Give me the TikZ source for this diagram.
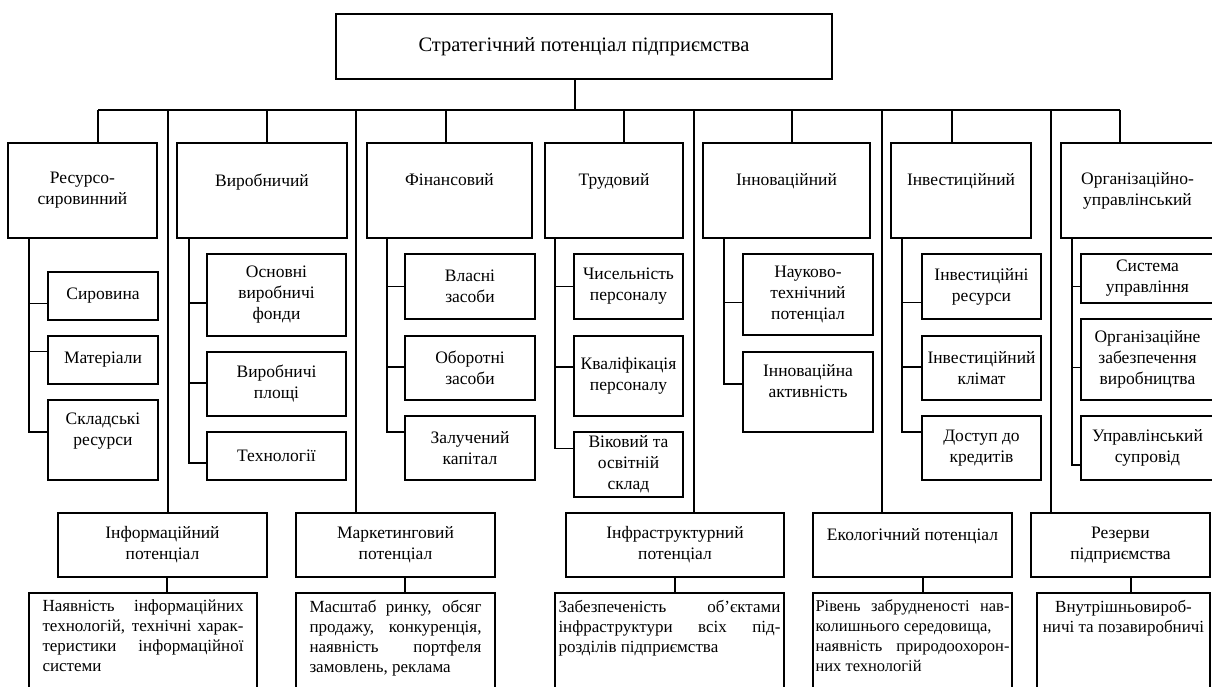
\documentclass[tikz,border=0pt]{standalone}
\usepackage{fontspec}
\setmainfont{Liberation Serif}
\usetikzlibrary{calc, positioning}
\tolerance=10000
\hyphenpenalty=10000

\begin{document}
\begin{tikzpicture}[x=1pt, y=-1pt,
        boxline/.style={draw, line width=2pt},
        titlebox/.style={boxline, minimum width=496, minimum height=65, font=\fontsize{20.5}{24}\selectfont},
        mainbox/.style={boxline, align=center, inner sep=1pt, font=\fontsize{17.5}{21}\selectfont},
        descbox/.style={boxline, anchor=north, inner xsep=0pt, inner ysep=7pt, font=\fontsize{17}{20}\selectfont},
        link/.style={line width=1.9pt}]
        \useasboundingbox (0,0) rectangle (1212,686);

        \node[titlebox] (nTop) at (584,46.5) {Стратегічний потенціал підприємства};

        % first row
        \node[mainbox, minimum width=149, minimum height=95] (nRes) at (82.5,190.5) {Ресурсо-\\сировинний};
        \node[mainbox, minimum width=170, minimum height=95] (nVyr) at (262,190.5) {Виробничий\\\mbox{}};
        \node[mainbox, minimum width=165, minimum height=95] (nFin) at (449.5,190.5) {Фінансовий\\\mbox{}};
        \node[mainbox, minimum width=138, minimum height=95] (nTrud) at (614,190.5) {Трудовий\\\mbox{}};
        \node[mainbox, minimum width=167, minimum height=95] (nInnov) at (786.5,190.5) {Інноваційний\\\mbox{}};
        \node[mainbox, minimum width=140, minimum height=95] (nInvest) at (961,190.5) {Інвестиційний\\\mbox{}};
        \node[mainbox, minimum width=153, minimum height=95] (nOrg) at (1137.5,190.5) {Організаційно-\\управлінський};

        \node[mainbox, minimum width=110, minimum height=48] (nResA) at (103,295.5) {Сировина};
        \node[mainbox, minimum width=110, minimum height=48] (nResB) at (103,359.5) {Матеріали};
        \node[mainbox, minimum width=110, minimum height=80] (nResC) at (103,440) {Складські\\ресурси\\\mbox{}};

        \node[mainbox, minimum width=139, minimum height=82] (nVyrA) at (276.5,295) {Основні\\виробничі\\фонди};
        \node[mainbox, minimum width=139, minimum height=64] (nVyrB) at (276.5,384) {Виробничі\\площі};
        \node[mainbox, minimum width=139, minimum height=48] (nVyrC) at (276.5,456) {Технології};

        \node[mainbox, minimum width=130, minimum height=65] (nFinA) at (470,286.5) {Власні\\засоби};
        \node[mainbox, minimum width=130, minimum height=64] (nFinB) at (470,368) {Оборотні\\засоби};
        \node[mainbox, minimum width=130, minimum height=64] (nFinC) at (470,448) {Залучений\\капітал};

        \node[mainbox, minimum width=109, minimum height=65] (nTrudA) at (628.5,286.5) {Чисельність\\персоналу};
        \node[mainbox, minimum width=109, minimum height=80] (nTrudB) at (628.5,376) {Кваліфікація\\персоналу};
        \node[mainbox, minimum width=109, minimum height=65] (nTrudC) at (628.5,464.5) {Віковий та\\освітній\\склад};

        \node[mainbox, minimum width=130, minimum height=81] (nInnovA) at (808,294.5) {Науково-\\технічний\\потенціал};
        \node[mainbox, minimum width=130, minimum height=80] (nInnovB) at (808,392) {Інноваційна\\активність\\\mbox{}};

        \node[mainbox, minimum width=119, minimum height=65] (nInvestA) at (981.5,286.5) {Інвестиційні\\ресурси};
        \node[mainbox, minimum width=119, minimum height=64] (nInvestB) at (981.5,368) {Інвестиційний\\клімат};
        \node[mainbox, minimum width=119, minimum height=64] (nInvestC) at (981.5,448) {Доступ до\\кредитів};

        \node[mainbox, minimum width=133, minimum height=49] (nOrgA) at (1147.5,278.5) {Система\\управління};
        \node[mainbox, minimum width=133, minimum height=81] (nOrgB) at (1147.5,359.5) {Організаційне\\забезпечення\\виробництва};
        \node[mainbox, minimum width=133, minimum height=64] (nOrgC) at (1147.5,448) {Управлінський\\супровід};

        % second row
        \node[mainbox, minimum width=209, minimum height=64] (nInfo) at (162.5,545) {Інформаційний\\потенціал};
        \node[mainbox, minimum width=199, minimum height=64] (nMark) at (395.5,545) {Маркетинговий\\потенціал};
        \node[mainbox, minimum width=218, minimum height=64] (nInfra) at (675,545) {Інфраструктурний\\потенціал};
        \node[mainbox, minimum width=199, minimum height=64] (nEco) at (912.5,545) {Екологічний потенціал\\\mbox{}};
        \node[mainbox, minimum width=179, minimum height=64] (nRez) at (1120.5,545) {Резерви\\підприємства};

        \node[descbox, minimum width=228] (nInfoTxt) at (143,592) {\parbox[t][92pt][t]{201pt}{Наявність інформаційних\linebreak технологій, технічні харак-\linebreak теристики інформаційної\linebreak системи}};
        \node[descbox, minimum width=199] (nMarkTxt) at (395.5,592) {\parbox[t][92pt][t]{172pt}{Масштаб ринку, обсяг\linebreak продажу, конкуренція,\linebreak наявність портфеля\linebreak замовлень, реклама}};
        \node[descbox, minimum width=229] (nInfraTxt) at (669.5,592) {\parbox[t][92pt][t]{222pt}{Забезпеченість об'єктами\linebreak інфраструктури всіх під-\linebreak розділів підприємства}};
        \node[descbox, minimum width=199, font=\fontsize{16.5}{20}\selectfont] (nEcoTxt) at (912.5,592) {\parbox[t][92pt][t]{194pt}{Рівень забрудненості нав-\linebreak колишнього середовища,\\ наявність природоохорон-\linebreak них технологій}};
        \node[descbox, minimum width=173] (nRezTxt) at (1123.5,592) {\parbox[t][92pt][t]{173pt}{\centering Внутрішньовироб-\\ничі та позавиробничі}};

        % connectors
        \coordinate (cTopStem) at ($(nTop.south)+(-9,0)$);
        \coordinate (cBusL) at (98,110);
        \coordinate (cBusR) at (1120,110);
        \draw[link] (cTopStem) -- (cTopStem |- cBusL);
        \draw[link] (cBusL) -- (cBusR);

        \foreach \n/\x in {Res/98, Vyr/267, Fin/446, Trud/624, Innov/792, Invest/952, Org/1120, Info/168, Mark/356, Infra/694, Eco/882, Rez/1051} {
            \coordinate (cDrop\n) at (\x,110);
            \draw[link] (cDrop\n) -- (cDrop\n |- n\n.north);
        }

        \foreach \n/\x/\a/\b/\c in {Res/29/8/-8/-8, Vyr/189/8/-1/7, Fin/387/0/-1/-16, Trud/555/0/-9/-16, Invest/902/16/-1/-16, Org/1072/8/8/17} {
            \coordinate (cSpine\n) at (\x,0);
            \coordinate (cStubA) at ($(n\n A.west)+(0,\a)$);
            \coordinate (cStubB) at ($(n\n B.west)+(0,\b)$);
            \coordinate (cStubC) at ($(n\n C.west)+(0,\c)$);
            \draw[link] (cSpine\n |- n\n.south) |- (cStubC);
            \draw[link] (cSpine\n |- cStubA) -- (cStubA);
            \draw[link] (cSpine\n |- cStubB) -- (cStubB);
        }
        \coordinate (cSpineInnov) at (724,0);
        \coordinate (cStubInnovA) at ($(nInnovA.west)+(0,8)$);
        \coordinate (cStubInnovB) at ($(nInnovB.west)+(0,-8)$);
        \draw[link] (cSpineInnov |- nInnov.south) |- (cStubInnovB);
        \draw[link] (cSpineInnov |- cStubInnovA) -- (cStubInnovA);

        \foreach \n/\x in {Info/167, Mark/405, Infra/675, Eco/923, Rez/1131} {
            \coordinate (cStem\n) at (\x,0);
            \draw[link] (cStem\n |- n\n.south) -- (cStem\n |- n\n Txt.north);
        }
\end{tikzpicture}
\end{document}
